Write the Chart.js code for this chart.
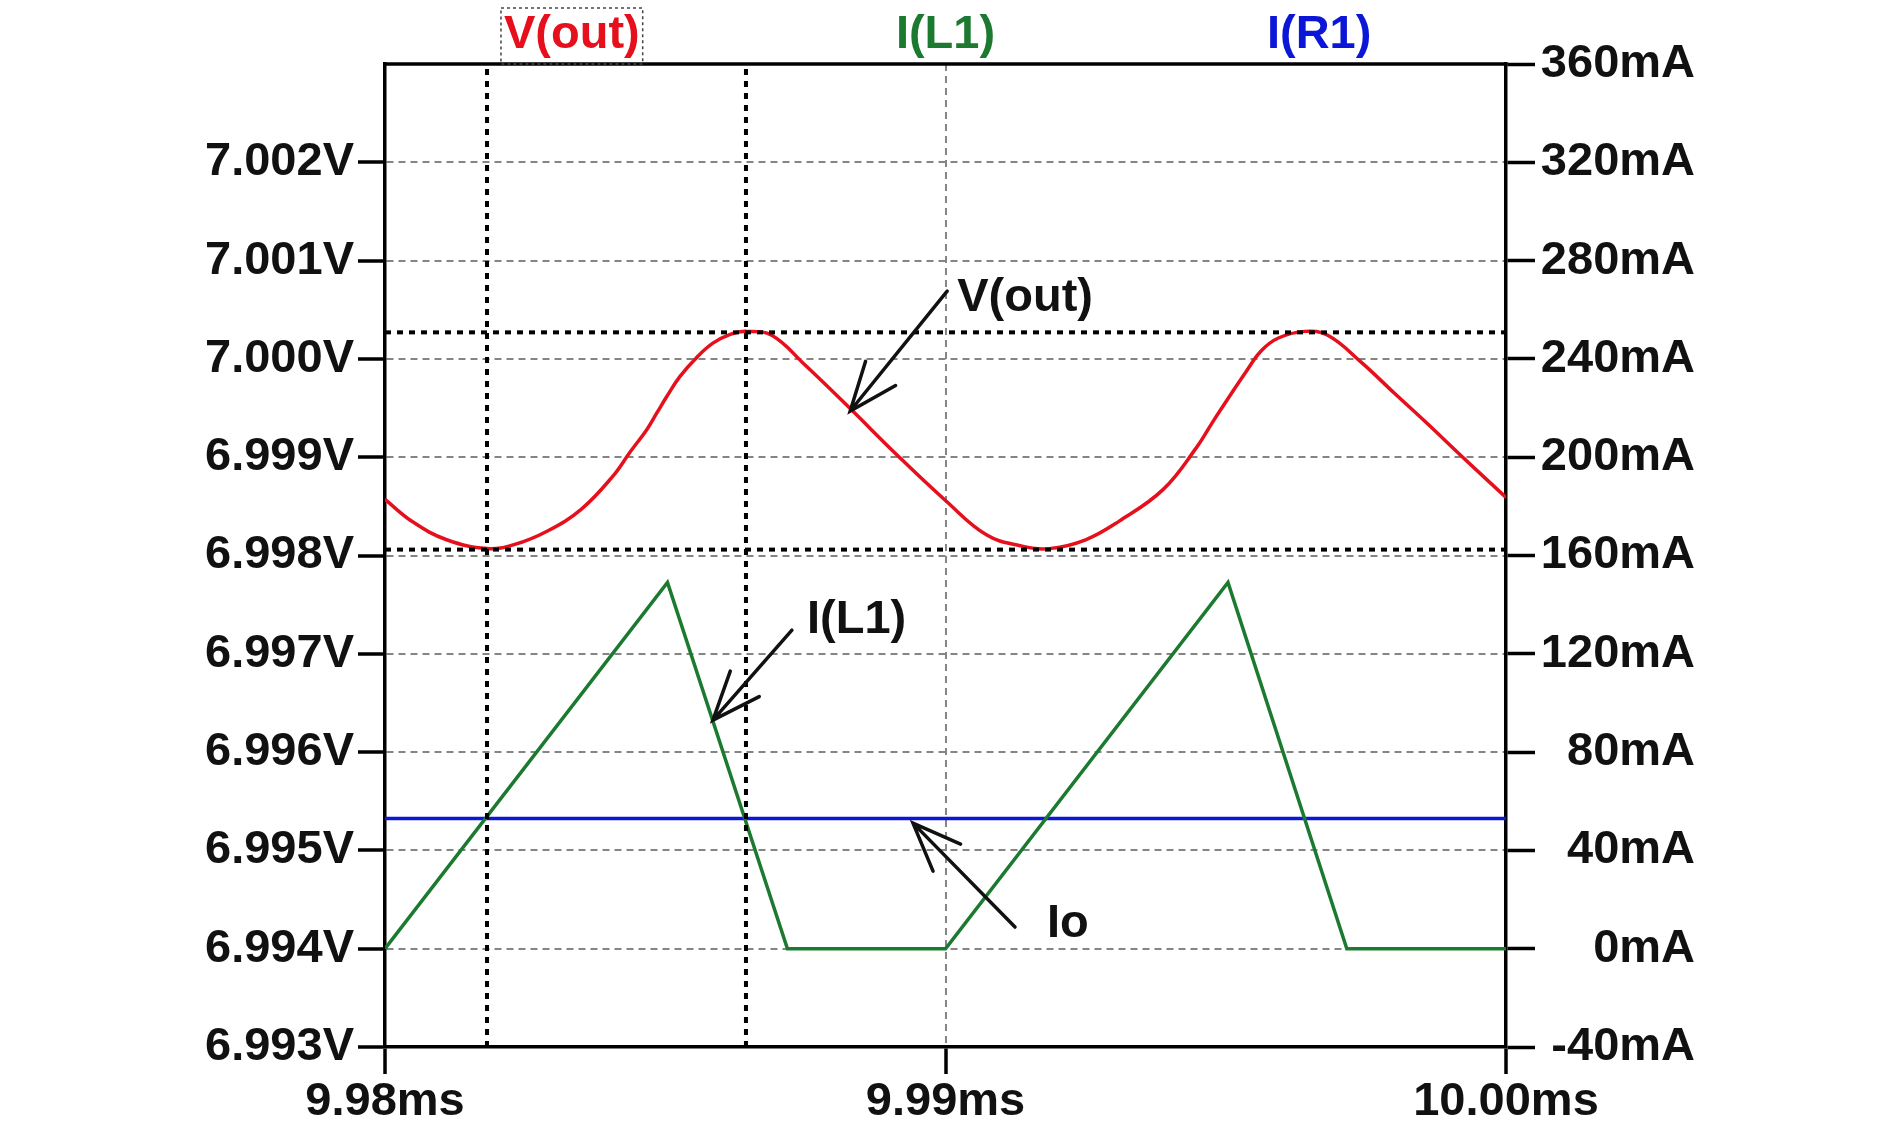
<!DOCTYPE html>
<html>
<head>
<meta charset="utf-8">
<script src="https://cdn.jsdelivr.net/npm/chart.js@4.4.1/dist/chart.umd.min.js"></script>
<style>
  body { margin: 0; background: #fff; }
  canvas { display: block; }
</style>
</head>
<body>
<canvas id="scope" width="1900" height="1136"></canvas>
<script>
// time in ms, V(out) in V, currents in mA
const timeV = [9.98000, 9.98050, 9.98110, 9.98182, 9.98230, 9.98290, 9.98350, 9.98407, 9.98437, 9.98467,
  9.98485, 9.98503, 9.98526, 9.98557, 9.98585, 9.98616, 9.98645, 9.98690, 9.98749, 9.98829,
  9.98914, 9.99000, 9.99073, 9.99133, 9.99185, 9.99250, 9.99310, 9.99388, 9.99448, 9.99478,
  9.99508, 9.99535, 9.99563, 9.99593, 9.99641, 9.99682, 9.99741, 9.99801, 9.99860, 9.99919,
  10.00000];
const vOut = [6.99857, 6.99834, 6.99816, 6.99807, 6.99811, 6.99825, 6.99847, 6.99881, 6.99905, 6.99928,
  6.99945, 6.99962, 6.99982, 7.00002, 7.00016, 7.00025, 7.00028, 7.00024, 6.99994, 6.99950,
  6.99902, 6.99856, 6.99821, 6.99810, 6.99807, 6.99816, 6.99835, 6.99867, 6.99910, 6.99937,
  6.99963, 6.99986, 7.00008, 7.00021, 7.00028, 7.00024, 6.99997, 6.99965, 6.99934, 6.99902,
  6.99859];

const timeL = [9.98000, 9.98504, 9.98718, 9.99000, 9.99504, 9.99716, 10.00000];
const iL1 = [0, 149, 0, 0, 149, 0, 0];

const timeR = [9.98000, 10.00000];
const iR1 = [53, 53];

// cursors
const cursorT = [9.98182, 9.98644];
const cursorV = [7.00027, 6.99806];

const xTicks = [9.98, 9.99, 10.00];
const vTicks = [6.993, 6.994, 6.995, 6.996, 6.997, 6.998, 6.999, 7.000, 7.001, 7.002];
const iTicks = [-40, 0, 40, 80, 120, 160, 200, 240, 280, 320, 360];

const traceNames = ['V(out)', 'I(L1)', 'I(R1)'];
const traceColors = ['#e5101c', '#1c7a30', '#0c16d6'];

// hand drawn notes (text baseline-left, arrows tail -> tip)
const noteText = ['V(out)', 'I(L1)', 'Io'];
const noteAxis = ['yV', 'yI', 'yI'];
const noteX = [9.99021, 9.98753, 9.99181];
const noteY = [7.00049, 128.5, 4.8];

const arrowAxis = ['yV', 'yI', 'yI'];
const arrowTailX = [9.99003, 9.98726, 9.99124];
const arrowTailY = [7.00069, 129.6, 8.8];
const arrowTipX = [9.98830, 9.98585, 9.98942];
const arrowTipY = [6.99947, 93.0, 51.1];

const FONT = "'Liberation Sans', Arial, sans-serif";
const font = { family: FONT, size: 47, weight: 'bold' };
const ink = '#111';

function pts(xs, ys) {
  return xs.map((x, i) => ({ x: x, y: ys[i] }));
}

const cursorStyle = {
  borderColor: '#000', borderWidth: 4, borderDash: [6, 6],
  pointRadius: 0, fill: false, yAxisID: 'yV'
};

const datasets = [];
cursorT.forEach(t => datasets.push(Object.assign({ data: pts([t, t], [6.993, 7.003]) }, cursorStyle)));
cursorV.forEach(v => datasets.push(Object.assign({ data: pts([9.98, 10.00], [v, v]) }, cursorStyle)));

datasets.push({
  label: traceNames[0], data: pts(timeV, vOut), yAxisID: 'yV',
  borderColor: traceColors[0], borderWidth: 3.5, pointRadius: 0,
  tension: 0.4
});
datasets.push({
  label: traceNames[1], data: pts(timeL, iL1), yAxisID: 'yI',
  borderColor: traceColors[1], borderWidth: 3.5, pointRadius: 0, tension: 0
});
datasets.push({
  label: traceNames[2], data: pts(timeR, iR1), yAxisID: 'yI',
  borderColor: traceColors[2], borderWidth: 3.5, pointRadius: 0
});

function drawArrow(ctx, x1, y1, x2, y2) {
  const a = Math.atan2(y2 - y1, x2 - x1);
  const len = 52, spread = 0.38;
  ctx.beginPath();
  ctx.moveTo(x1, y1);
  ctx.lineTo(x2, y2);
  ctx.moveTo(x2 - len * Math.cos(a - spread), y2 - len * Math.sin(a - spread));
  ctx.lineTo(x2, y2);
  ctx.lineTo(x2 - len * Math.cos(a + spread), y2 - len * Math.sin(a + spread));
  ctx.stroke();
}

const decor = {
  id: 'decor',
  afterDraw(chart) {
    const ctx = chart.ctx;
    const area = chart.chartArea;
    const sx = chart.scales.x;
    ctx.save();

    // top edge of the frame
    ctx.strokeStyle = '#000';
    ctx.lineWidth = 3.5;
    ctx.beginPath();
    ctx.moveTo(area.left - 1.5, area.top);
    ctx.lineTo(area.right + 1.5, area.top);
    ctx.stroke();

    // trace names across the top
    ctx.font = 'bold 47px ' + FONT;
    ctx.textAlign = 'center';
    ctx.textBaseline = 'alphabetic';
    traceNames.forEach((name, i) => {
      const cx = area.left + (area.right - area.left) * (2 * i + 1) / 6;
      ctx.fillStyle = traceColors[i];
      ctx.fillText(name, cx, area.top - 16);
      if (i === 0) {
        const w = ctx.measureText(name).width;
        ctx.save();
        ctx.strokeStyle = '#444';
        ctx.lineWidth = 1.5;
        ctx.setLineDash([3, 3]);
        ctx.strokeRect(cx - w / 2 - 3, 8, w + 6, area.top - 8);
        ctx.restore();
      }
    });

    // arrows
    ctx.strokeStyle = ink;
    ctx.lineWidth = 3.5;
    ctx.lineCap = 'round';
    arrowAxis.forEach((ax, i) => {
      const sy = chart.scales[ax];
      drawArrow(ctx,
        sx.getPixelForValue(arrowTailX[i]), sy.getPixelForValue(arrowTailY[i]),
        sx.getPixelForValue(arrowTipX[i]), sy.getPixelForValue(arrowTipY[i]));
    });

    // note labels
    ctx.fillStyle = ink;
    ctx.textAlign = 'left';
    noteText.forEach((txt, i) => {
      const sy = chart.scales[noteAxis[i]];
      ctx.fillText(txt, sx.getPixelForValue(noteX[i]), sy.getPixelForValue(noteY[i]));
    });
    ctx.restore();
  }
};

new Chart(document.getElementById('scope').getContext('2d'), {
  type: 'line',
  data: { datasets: datasets },
  options: {
    responsive: false,
    animation: false,
    devicePixelRatio: 1,
    layout: { padding: { top: 64, left: 0, right: 205, bottom: 0 } },
    plugins: { legend: { display: false }, tooltip: { enabled: false } },
    scales: {
      x: {
        type: 'linear', min: 9.98, max: 10.00,
        afterBuildTicks: s => { s.ticks = xTicks.map(v => ({ value: v })); },
        afterFit: s => { s.height = 89; },
        ticks: { callback: v => v.toFixed(2) + 'ms', font: font, color: ink, padding: 0, maxRotation: 0, autoSkip: false },
        grid: { color: '#858585', lineWidth: 2, tickColor: '#000', tickWidth: 3.5, tickLength: 27 },
        border: { color: '#000', width: 3.5, dash: [7, 5] }
      },
      yV: {
        type: 'linear', position: 'left', min: 6.993, max: 7.003,
        afterBuildTicks: s => { s.ticks = vTicks.map(v => ({ value: v })); },
        afterFit: s => { s.width = 385; },
        ticks: { callback: v => v.toFixed(3) + 'V', font: font, color: ink, padding: 4, autoSkip: false },
        grid: { color: '#858585', lineWidth: 2, tickColor: '#000', tickWidth: 3.5, tickLength: 27 },
        border: { color: '#000', width: 3.5, dash: [7, 5] }
      },
      yI: {
        type: 'linear', position: 'right', min: -40, max: 360,
        afterBuildTicks: s => { s.ticks = iTicks.map(v => ({ value: v })); },
        afterFit: s => { s.width = 189; },
        ticks: { callback: v => v + 'mA', font: font, color: ink, padding: 5, autoSkip: false, crossAlign: 'far' },
        grid: { drawOnChartArea: false, tickColor: '#000', tickWidth: 3.5, tickLength: 29 },
        border: { color: '#000', width: 3.5 }
      }
    }
  },
  plugins: [decor]
});
</script>
</body>
</html>
